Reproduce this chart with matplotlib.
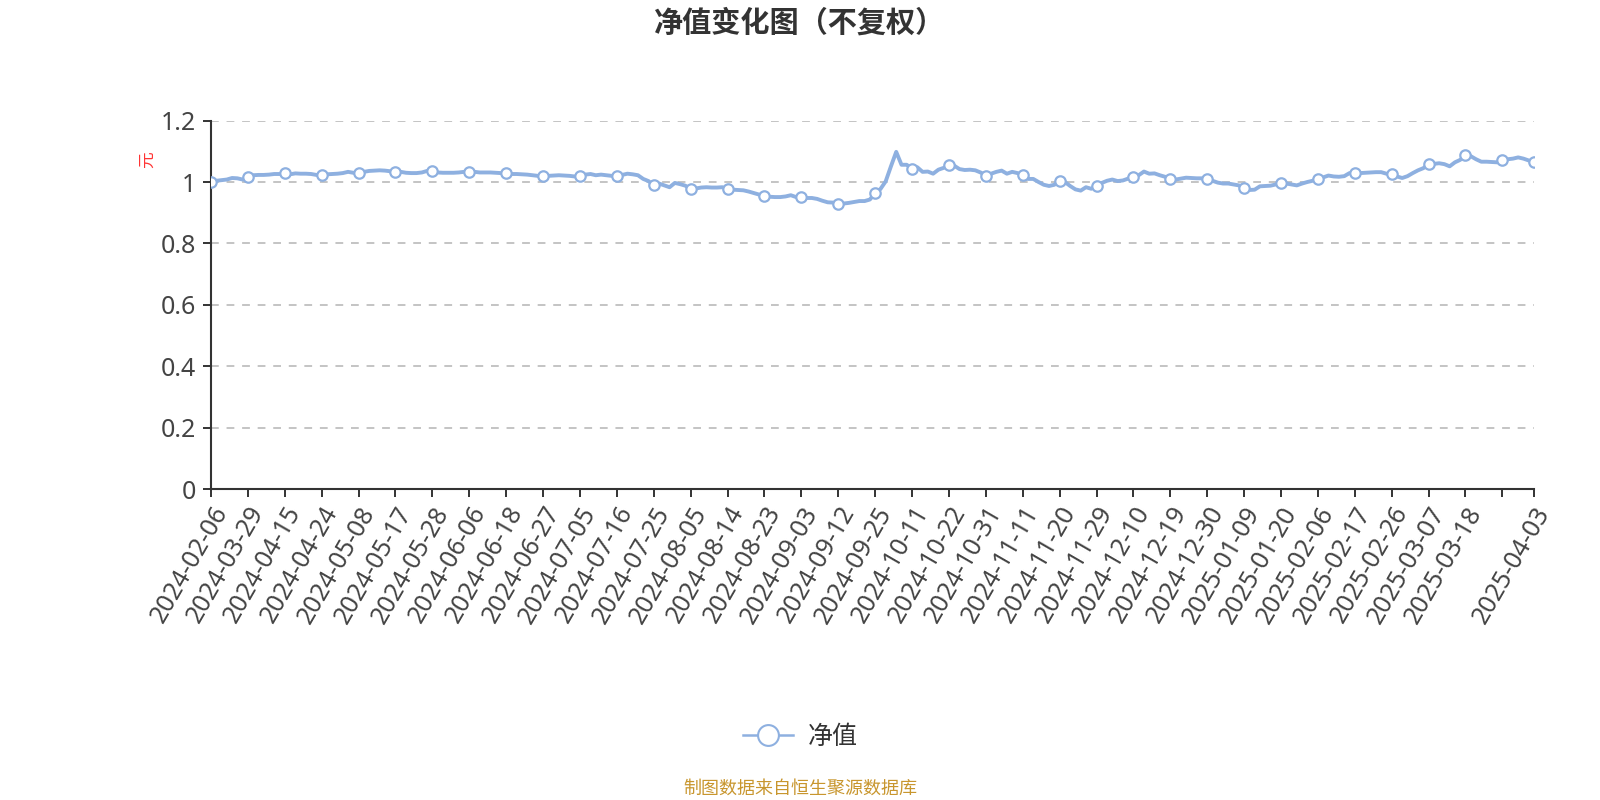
import matplotlib
matplotlib.use("Agg")
import matplotlib.pyplot as plt
from matplotlib.lines import Line2D

plt.rcParams['font.family'] = ['Noto Sans', 'Noto Sans CJK SC', 'DejaVu Sans']

title = "净值变化图（不复权）"
y_unit = "元"
series_name = "净值"
footer = "制图数据来自恒生聚源数据库"

tick_labels = [
    "2024-02-06", "2024-03-29", "2024-04-15", "2024-04-24", "2024-05-08", "2024-05-17",
    "2024-05-28", "2024-06-06", "2024-06-18", "2024-06-27", "2024-07-05", "2024-07-16",
    "2024-07-25", "2024-08-05", "2024-08-14", "2024-08-23", "2024-09-03", "2024-09-12",
    "2024-09-25", "2024-10-11", "2024-10-22", "2024-10-31", "2024-11-11", "2024-11-20",
    "2024-11-29", "2024-12-10", "2024-12-19", "2024-12-30", "2025-01-09", "2025-01-20",
    "2025-02-06", "2025-02-17", "2025-02-26", "2025-03-07", "2025-03-18", "", "2025-04-03",
]

nav = [
    1.000, 1.004, 1.006, 1.008, 1.013, 1.012, 1.008, 1.017, 1.022, 1.023,
    1.023, 1.024, 1.026, 1.026, 1.028, 1.025, 1.028, 1.027, 1.027, 1.026,
    1.023, 1.023, 1.025, 1.026, 1.027, 1.029, 1.033, 1.030, 1.029, 1.033,
    1.036, 1.037, 1.038, 1.037, 1.035, 1.034, 1.033, 1.030, 1.029, 1.029,
    1.031, 1.036, 1.035, 1.031, 1.030, 1.030, 1.030, 1.031, 1.033, 1.033,
    1.033, 1.031, 1.031, 1.031, 1.030, 1.029, 1.028, 1.026, 1.026, 1.025,
    1.024, 1.022, 1.020, 1.018, 1.020, 1.021, 1.022, 1.021, 1.020, 1.018,
    1.021, 1.024, 1.026, 1.022, 1.024, 1.022, 1.020, 1.021, 1.023, 1.027,
    1.025, 1.022, 1.010, 1.003, 0.989, 0.995, 0.989, 0.983, 0.997, 0.993,
    0.988, 0.977, 0.979, 0.982, 0.983, 0.982, 0.982, 0.983, 0.977, 0.975,
    0.974, 0.973, 0.969, 0.964, 0.959, 0.953, 0.952, 0.951, 0.951, 0.953,
    0.957, 0.951, 0.950, 0.948, 0.948, 0.945, 0.939, 0.934, 0.933, 0.930,
    0.930, 0.932, 0.935, 0.938, 0.938, 0.943, 0.964, 0.977, 1.002, 1.051,
    1.098, 1.056, 1.056, 1.042, 1.048, 1.033, 1.034, 1.027, 1.040, 1.046,
    1.054, 1.053, 1.042, 1.039, 1.040, 1.038, 1.031, 1.021, 1.027, 1.033,
    1.037, 1.027, 1.033, 1.029, 1.023, 1.010, 1.010, 1.000, 0.991, 0.987,
    0.991, 1.004, 1.000, 0.987, 0.976, 0.972, 0.983, 0.978, 0.988, 0.997,
    1.004, 1.008, 1.003, 1.005, 1.011, 1.015, 1.022, 1.034, 1.027, 1.028,
    1.022, 1.017, 1.011, 1.008, 1.011, 1.014, 1.013, 1.012, 1.012, 1.010,
    1.004, 0.998, 0.995, 0.995, 0.992, 0.989, 0.981, 0.974, 0.975, 0.986,
    0.987, 0.988, 0.992, 0.998, 0.995, 0.992, 0.989, 0.995, 1.000, 1.004,
    1.011, 1.015, 1.021, 1.018, 1.017, 1.019, 1.029, 1.028, 1.029, 1.030,
    1.031, 1.032, 1.032, 1.027, 1.027, 1.018, 1.013, 1.019, 1.029, 1.038,
    1.045, 1.058, 1.059, 1.061, 1.058, 1.051, 1.064, 1.072, 1.089, 1.084,
    1.074, 1.066, 1.066, 1.065, 1.064, 1.070, 1.074, 1.076, 1.080, 1.076,
    1.070, 1.066,
]

label_step = 7
y_ticks = [0, 0.2, 0.4, 0.6, 0.8, 1.0, 1.2]
y_tick_labels = ["0", "0.2", "0.4", "0.6", "0.8", "1", "1.2"]

line_color = "#8eb0e0"
axis_color = "#333333"
text_color = "#444444"

n = len(nav)
x = list(range(n))
tick_pos = list(range(0, n - 1, label_step))
if tick_pos[-1] != n - 1:
    tick_pos.append(n - 1)
marker_idx = tick_pos

fig = plt.figure(figsize=(16, 8), dpi=100)
ax = fig.add_axes([211 / 1600, 1 - 489.5 / 800, (1534 - 211) / 1600, 369 / 800])

ax.plot(x, nav, color=line_color, lw=2.8, solid_joinstyle='round', solid_capstyle='round',
        zorder=3, marker='o', markevery=marker_idx, markersize=7.5, markerfacecolor='white',
        markeredgecolor=line_color, markeredgewidth=1.6)

ax.set_xlim(0, n - 1)
ax.set_ylim(0, 1.2)
ax.set_yticks(y_ticks)
ax.set_yticklabels(y_tick_labels, fontsize=18, color=text_color)
for yv in y_ticks[1:]:
    ax.axhline(yv, color="#c4c4c4", lw=1.4, ls=(0, (4, 4)), zorder=1)

ax.set_xticks(tick_pos)
ax.set_xticklabels(tick_labels, rotation=60, ha='right', va='top',
                   rotation_mode='anchor', fontsize=18, color=text_color)

for s in ['top', 'right']:
    ax.spines[s].set_visible(False)
for s in ['left', 'bottom']:
    ax.spines[s].set_color(axis_color)
    ax.spines[s].set_linewidth(1.5)
ax.tick_params(axis='both', direction='out', length=6, width=1.4, color=axis_color)
ax.tick_params(axis='x', pad=3)
ax.tick_params(axis='y', pad=5)

fig.text(148 / 1600, 1 - 160 / 800, y_unit, rotation=90, color="#ff3333",
         fontsize=12, ha='center', va='center')

fig.text(0.5, 1 - 24 / 800, title, fontsize=21, fontweight='bold',
         color="#333333", ha='center', va='center')

handle = Line2D([0], [0], color=line_color, lw=1.8, marker='o', markersize=15,
                markerfacecolor='white', markeredgecolor=line_color, markeredgewidth=1.5)
fig.legend([handle], [series_name], loc='center', bbox_to_anchor=(0.5, 1 - 737 / 800),
           frameon=False, fontsize=18, handlelength=2.0, handletextpad=0.6,
           labelcolor="#333333")

fig.text(0.5, 1 - 789 / 800, footer, fontsize=13, color="#c8962e",
         ha='center', va='center')

fig.savefig("out.png", dpi=100, facecolor='white')
